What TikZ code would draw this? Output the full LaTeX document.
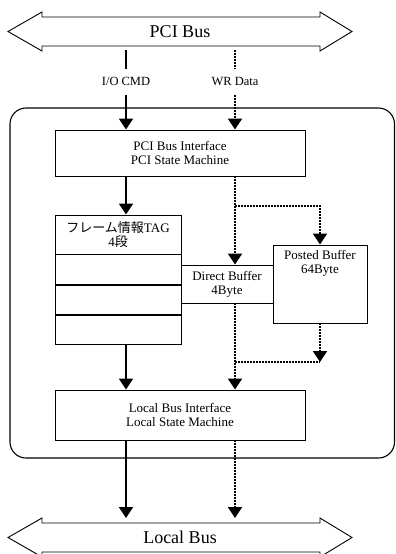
\documentclass[tikz,border=0pt]{standalone}
\usepackage{fontspec}
\setmainfont{Liberation Serif}
\newfontfamily\jp{Noto Sans CJK JP}
\usetikzlibrary{arrows.meta}
\begin{document}
\begin{tikzpicture}[x=1pt, y=-1pt, every node/.style={font=\fontsize{13}{14}\selectfont}]
  \tikzstyle{b}=[draw,line width=0.9pt,inner sep=0pt,align=center]
  \tikzstyle{lab}=[font=\fontsize{12.5}{14}\selectfont,text height=9pt,text depth=3pt,inner sep=6.5pt]
  \tikzstyle{bus}=[draw,line width=0.9pt,fill=white]
  \tikzstyle{solarrow}=[line width=2pt,-{Triangle[width=14pt,length=11pt]}]
  \tikzstyle{dotline}=[line width=2pt,dash pattern=on 2pt off 1pt]
  \tikzstyle{dotarrow}=[dotline,-{Triangle[width=14pt,length=11pt]}]
  \useasboundingbox (0,0) rectangle (396,554);
  % buses
  \draw[bus] (8,31.5) -- (42,12) -- (42,17) -- (320,17) -- (320,12) -- (352,31.5) -- (320,51) -- (320,46) -- (42,46) -- (42,51) -- cycle;
  \node[font=\fontsize{18}{20}\selectfont] (pcibus) at (180,31.5) {PCI Bus};
  \draw[bus] (8,537.5) -- (42,518) -- (42,523) -- (320,523) -- (320,518) -- (352,537.5) -- (320,557) -- (320,552) -- (42,552) -- (42,557) -- cycle;
  \node[font=\fontsize{18}{20}\selectfont] (localbus) at (180,537.5) {Local Bus};
  \coordinate (pcibot) at (180,50);
  \coordinate (lbtop) at (180,518);
  % board
  \draw[line width=1.1pt,rounded corners=16pt] (10,108) rectangle (394.5,458);
  \node[lab] (iocmd) at (126,82) {I/O CMD};
  \node[lab] (wrdata) at (235,82) {WR Data};
  \node[b,minimum width=250pt,minimum height=46pt] (pci) at (180,153) {PCI Bus Interface\\PCI State Machine};
  \node[b,minimum width=126pt,minimum height=39pt] (tag) at (118,234.5) {{\jp フレーム情報}TAG\\4{\jp 段}};
  \node[b,minimum width=126pt,minimum height=29.3pt,anchor=north] (r1) at (tag.south) {};
  \node[b,minimum width=126pt,minimum height=29.3pt,anchor=north] (r2) at (r1.south) {};
  \node[b,minimum width=126pt,minimum height=29.3pt,anchor=north] (r3) at (r2.south) {};
  \node[b,minimum width=92pt,minimum height=38pt] (direct) at (227,284) {Direct Buffer\\4Byte};
  \node[b,minimum width=94pt,minimum height=78pt,align=center,text depth=44pt] (posted) at (320,284) {Posted Buffer\\64Byte};
  \node[b,minimum width=250pt,minimum height=50pt] (local) at (180,415) {Local Bus Interface\\Local State Machine};
  \coordinate (split) at (235,206);
  \coordinate (join) at (235,362);
  % connectors
  \draw[line width=2pt] (iocmd |- pcibot) -- (iocmd);
  \draw[dotline] (wrdata |- pcibot) -- (wrdata);
  \draw[solarrow] (iocmd) -- (iocmd |- pci.north);
  \draw[dotarrow] (wrdata) -- (wrdata |- pci.north);
  \draw[solarrow] (iocmd |- pci.south) -- (iocmd |- tag.north);
  \draw[dotarrow] (wrdata |- pci.south) -- (wrdata |- direct.north);
  \draw[dotarrow] (split) -| (posted.north);
  \draw[dotarrow] (wrdata |- direct.south) -- (wrdata |- local.north);
  \draw[dotarrow] (posted.south) -- (join -| posted);
  \draw[dotline] (join) -- (join -| posted);
  \draw[solarrow] (iocmd |- r3.south) -- (iocmd |- local.north);
  \draw[solarrow] (iocmd |- local.south) -- (iocmd |- lbtop);
  \draw[dotarrow] (wrdata |- local.south) -- (wrdata |- lbtop);
\end{tikzpicture}
\end{document}
